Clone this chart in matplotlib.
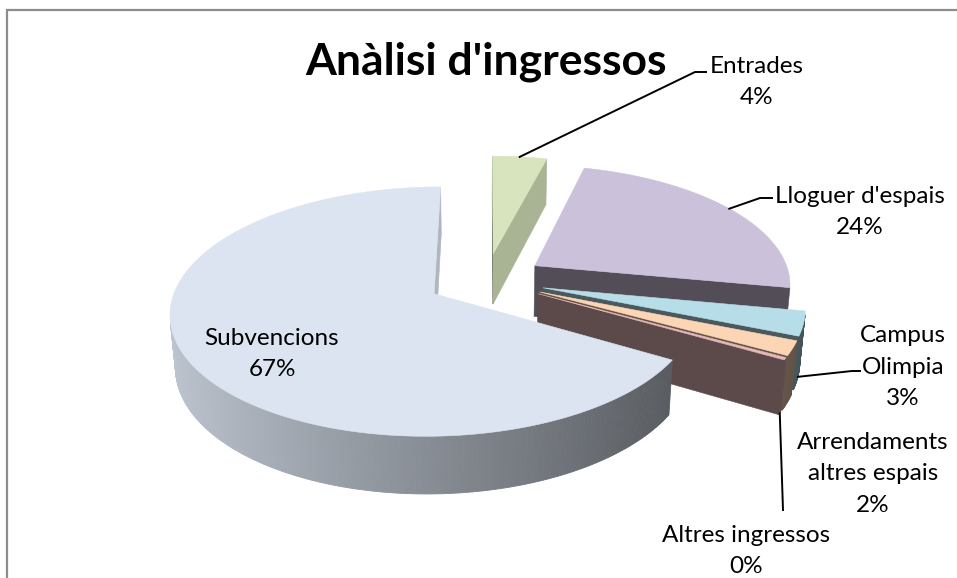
import numpy as np
import matplotlib.pyplot as plt
from matplotlib.patches import Polygon
from matplotlib.colors import to_rgb

# chart data (clockwise from 12 o'clock, as in the spreadsheet)
categories = ["Entrades", "Lloguer d'espais", "Campus\nOlimpia",
              "Arrendaments\naltres espais", "Altres ingressos", "Subvencions"]
values = [4.0, 24.0, 3.2, 1.9, 0.3, 66.6]
top_colors = ["#D7E4BD", "#CCC1DA", "#B7DEE8", "#FCD5B5", "#E6B9B8", "#DBE4F0"]
title = "Anàlisi d'ingressos"

# label placement in pixels, and leader lines (None = no leader)
label_pos = [(757, 82), (860, 212), (903, 367), (873, 474), (746, 551), (272, 354)]
leader_z = [0.0, 0.0, -1.0, None, -1.0, None]      # 0 = top edge, -1 = bottom edge
leader_pts = [[(695, 72), (706, 72)], [(760, 198), (772, 198)],
              [(852, 371), (860, 371)], None, [(783, 510)], None]

# 3d look
R = 256.0
cx, cy = 486.0, 280.0
tilt = np.radians(27.5)
dist = 6.3
depth = 0.23
explode = 0.23

plt.rcParams['font.family'] = ['Lato', 'DejaVu Sans']


def project(X, Y, Z):
    v = Y * np.sin(tilt) + Z * np.cos(tilt)
    w = Y * np.cos(tilt) - Z * np.sin(tilt)
    s = dist / (dist + w)
    return cx + R * X * s, cy - R * v * s


cam = np.array([0.0, -dist * np.cos(tilt), dist * np.sin(tilt)])


def visible(n, p):
    return np.dot(n, cam - np.array(p)) > 0


def shade(color, f):
    return tuple(np.clip(np.array(to_rgb(color)) * f, 0, 1))


def wall_factor(nx):
    return 0.40 + 0.4 * max(nx, 0.0)


def side_factor(nx):
    return 0.62 - 0.25 * nx


fig = plt.figure(figsize=(9.57, 5.78), dpi=100)
ax = fig.add_axes([0, 0, 1, 1])
ax.set_xlim(0, 957)
ax.set_ylim(578, 0)
ax.axis('off')

# chart frame
ax.plot([7, 7, 957], [578, 10, 10], color="#8C8C8C", lw=1.6, solid_joinstyle='miter')

total = sum(values)
edges = np.concatenate([[0], np.cumsum(values)]) / total * 2 * np.pi

slices = []
for i, v in enumerate(values):
    t1, t2 = edges[i], edges[i + 1]
    mid = (t1 + t2) / 2
    ox, oy = explode * np.sin(mid), explode * np.cos(mid)
    arc = np.linspace(t1, t2, max(2, int((t2 - t1) / 0.01) + 2))
    front = min(oy, oy + np.cos(arc).min())
    slices.append((front, i, t1, t2, mid, ox, oy, arc))

# back slices first
slices.sort(key=lambda s: -s[0])

for front, i, t1, t2, mid, ox, oy, arc in slices:
    col = top_colors[i]
    h = -depth
    # flat cut walls
    for t, n in [(t1, (-np.cos(t1), np.sin(t1), 0)), (t2, (np.cos(t2), -np.sin(t2), 0))]:
        p = (ox + 0.5 * np.sin(t), oy + 0.5 * np.cos(t), h / 2)
        if not visible(n, p):
            continue
        pts = [project(ox, oy, 0), project(ox + np.sin(t), oy + np.cos(t), 0),
               project(ox + np.sin(t), oy + np.cos(t), h), project(ox, oy, h)]
        fc = shade(col, wall_factor(n[0]))
        ax.add_patch(Polygon(pts, closed=True, facecolor=fc, edgecolor=fc, lw=0.4))
    # outer curved side
    for a, b in zip(arc[:-1], arc[1:]):
        m = (a + b) / 2
        n = (np.sin(m), np.cos(m), 0)
        p = (ox + np.sin(m), oy + np.cos(m), h / 2)
        if not visible(n, p):
            continue
        pts = [project(ox + np.sin(a), oy + np.cos(a), 0), project(ox + np.sin(b), oy + np.cos(b), 0),
               project(ox + np.sin(b), oy + np.cos(b), h), project(ox + np.sin(a), oy + np.cos(a), h)]
        fc = shade(col, side_factor(n[0]))
        ax.add_patch(Polygon(pts, closed=True, facecolor=fc, edgecolor=fc, lw=0.6))
    # top face
    pts = [project(ox, oy, 0)] + [project(ox + np.sin(t), oy + np.cos(t), 0) for t in arc]
    ax.add_patch(Polygon(pts, closed=True, facecolor=col, edgecolor=col, lw=0.4))

# labels and leader lines
for i, name in enumerate(categories):
    pct = round(values[i] / total * 100)
    ax.text(label_pos[i][0], label_pos[i][1], f"{name}\n{pct:.0f}%", ha='center', va='center',
            fontsize=17.5, linespacing=1.63, color="black")
    if leader_pts[i] is not None:
        mid = (edges[i] + edges[i + 1]) / 2
        ox, oy = explode * np.sin(mid), explode * np.cos(mid)
        start = project(ox + np.sin(mid), oy + np.cos(mid), leader_z[i] * depth)
        xs = [start[0]] + [p[0] for p in leader_pts[i]]
        ys = [start[1]] + [p[1] for p in leader_pts[i]]
        ax.plot(xs, ys, color="black", lw=1.4)

ax.text(486, 75, title, ha='center', va='baseline', fontsize=32, fontweight='bold')

fig.savefig("out.png", dpi=100)
